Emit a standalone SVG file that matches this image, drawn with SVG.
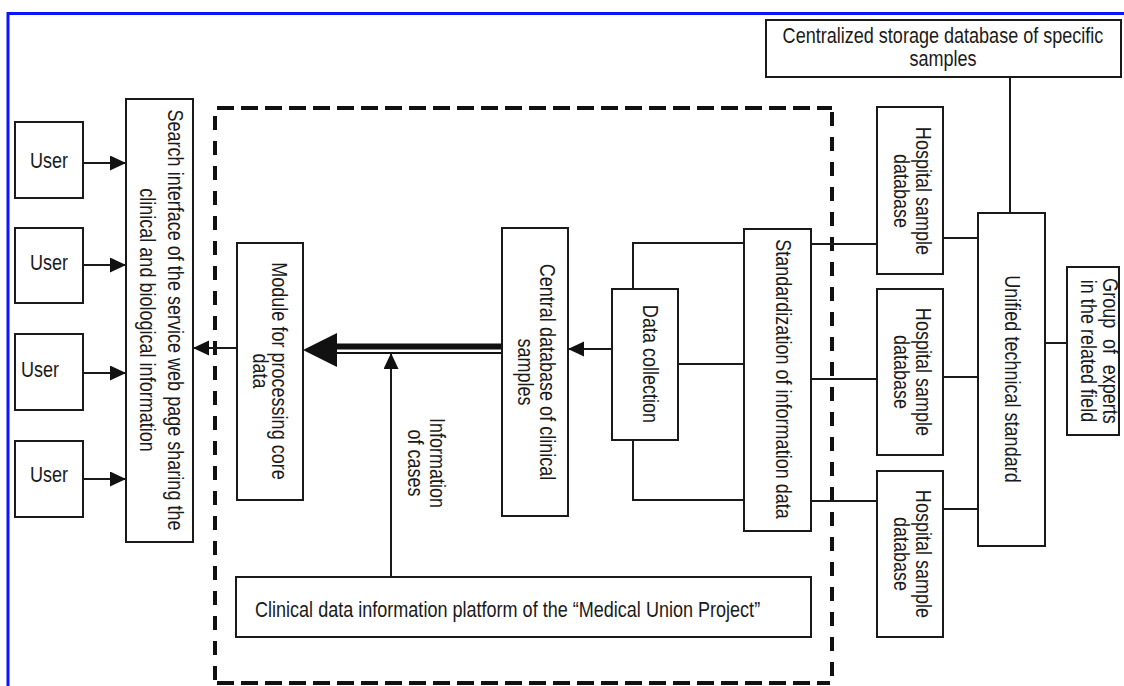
<svg xmlns="http://www.w3.org/2000/svg" width="1124" height="686" viewBox="0 0 1124 686">
<defs>
<style>
.box{fill:#fff;stroke:#1a1a1a;stroke-width:2}
.t{font-family:"Liberation Sans",Arial,sans-serif;font-size:22px;fill:#1a1a1a}
.c{text-anchor:middle}
.ln{fill:none;stroke:#1a1a1a;stroke-width:2}
.dsh{fill:none;stroke:#111;stroke-width:4}
</style>
<marker id="ah" markerUnits="userSpaceOnUse" markerWidth="17" markerHeight="16" refX="16" refY="7.5" orient="auto">
<path d="M0,0 L16,7.5 L0,15 z" fill="#111"/>
</marker>
</defs>
<rect x="0" y="0" width="1124" height="686" fill="#fff"/>
<g id="frame">
<line x1="8" y1="13.5" x2="1124" y2="13.5" stroke="#0a14ff" stroke-width="3"/>
<line x1="8" y1="12" x2="8" y2="686" stroke="#0a14ff" stroke-width="3"/>
</g>
<g id="dashed-region">
<line class="dsh" x1="217" y1="108" x2="832" y2="108" stroke-dasharray="17 7"/>
<line class="dsh" x1="215" y1="116" x2="215" y2="683" stroke-dasharray="14 11"/>
<line class="dsh" x1="832" y1="112" x2="832" y2="683" stroke-dasharray="14 11"/>
<line class="dsh" x1="217" y1="683" x2="830" y2="683" stroke-dasharray="17 7"/>
</g>
<g id="connectors">
<line class="ln" x1="83" y1="163" x2="126" y2="163" marker-end="url(#ah)"/>
<line class="ln" x1="83" y1="265" x2="126" y2="265" marker-end="url(#ah)"/>
<line class="ln" x1="83" y1="373" x2="126" y2="373" marker-end="url(#ah)"/>
<line class="ln" x1="83" y1="479" x2="126" y2="479" marker-end="url(#ah)"/>
<line class="ln" x1="237" y1="348" x2="193" y2="348" marker-end="url(#ah)"/>
<line x1="330" y1="346.5" x2="502" y2="346.5" stroke="#111" stroke-width="6"/>
<line x1="330" y1="353" x2="502" y2="353" stroke="#111" stroke-width="2"/>
<polygon points="303,350 337,333 337,367" fill="#111"/>
<line class="ln" x1="391" y1="576" x2="391" y2="353" marker-end="url(#ah)"/>
<line class="ln" x1="612" y1="349" x2="568" y2="349" marker-end="url(#ah)"/>
<polyline class="ln" points="633,289 633,243 744,243"/>
<line class="ln" x1="678" y1="364" x2="744" y2="364"/>
<polyline class="ln" points="633,440 633,500 744,500"/>
<line class="ln" x1="811" y1="244" x2="877" y2="244"/>
<line class="ln" x1="811" y1="379" x2="877" y2="379"/>
<line class="ln" x1="811" y1="501" x2="877" y2="501"/>
<line class="ln" x1="943" y1="238" x2="978" y2="238"/>
<line class="ln" x1="943" y1="377" x2="978" y2="377"/>
<line class="ln" x1="943" y1="509" x2="978" y2="509"/>
<line class="ln" x1="1010" y1="77" x2="1010" y2="213"/>
<line class="ln" x1="1045" y1="343" x2="1067" y2="343"/>
</g>
<g id="user1"><rect class="box" x="15" y="122" width="68" height="76"/><text class="t c" transform="translate(49,168) scale(0.82,1)">User</text></g>
<g id="user2"><rect class="box" x="15" y="228" width="68" height="75"/><text class="t c" transform="translate(49,270) scale(0.82,1)">User</text></g>
<g id="user3"><rect class="box" x="15" y="334" width="68" height="76"/><text class="t c" transform="translate(40,377) scale(0.82,1)">User</text></g>
<g id="user4"><rect class="box" x="15" y="441" width="68" height="76"/><text class="t c" transform="translate(49,482) scale(0.82,1)">User</text></g>
<g id="search-interface"><rect class="box" x="126" y="99" width="67" height="443"/>
<text class="t c" transform="translate(168,320) rotate(90) scale(0.82,1)"><tspan x="0" y="0">Search interface of the service web page sharing the</tspan><tspan x="0" y="28">clinical and biological information</tspan></text></g>
<g id="module"><rect class="box" x="237" y="243" width="66" height="257"/>
<text class="t c" transform="translate(272,371) rotate(90) scale(0.82,1)"><tspan x="0" y="0">Module for processing core</tspan><tspan x="0" y="19">data</tspan></text></g>
<g id="central-db"><rect class="box" x="502" y="228" width="66" height="288"/>
<text class="t c" transform="translate(540,372) rotate(90) scale(0.82,1)"><tspan x="0" y="0">Central database of clinical</tspan><tspan x="0" y="22">samples</tspan></text></g>
<g id="data-collection"><rect class="box" x="612" y="289" width="66" height="151"/>
<text class="t c" transform="translate(643,364) rotate(90) scale(0.82,1)">Data collection</text></g>
<g id="standardization"><rect class="box" x="744" y="229" width="67" height="302"/>
<text class="t c" transform="translate(776,379) rotate(90) scale(0.82,1)">Standardization of information data</text></g>
<g id="info-cases-label">
<text class="t c" transform="translate(430,463) rotate(90) scale(0.82,1)"><tspan x="0" y="0">Information</tspan><tspan x="0" y="22">of cases</tspan></text></g>
<g id="platform"><rect class="box" x="236" y="577" width="575" height="60"/>
<text class="t" transform="translate(255,617) scale(0.82,1)">Clinical data information platform of the “Medical Union Project”</text></g>
<g id="hospital1"><rect class="box" x="877" y="107" width="66" height="167"/>
<text class="t c" transform="translate(916,191) rotate(90) scale(0.82,1)"><tspan x="0" y="0">Hospital sample</tspan><tspan x="0" y="22">database</tspan></text></g>
<g id="hospital2"><rect class="box" x="877" y="289" width="66" height="166"/>
<text class="t c" transform="translate(916,372) rotate(90) scale(0.82,1)"><tspan x="0" y="0">Hospital sample</tspan><tspan x="0" y="22">database</tspan></text></g>
<g id="hospital3"><rect class="box" x="877" y="471" width="66" height="166"/>
<text class="t c" transform="translate(916,554) rotate(90) scale(0.82,1)"><tspan x="0" y="0">Hospital sample</tspan><tspan x="0" y="22">database</tspan></text></g>
<g id="unified-standard"><rect class="box" x="978" y="213" width="67" height="333"/>
<text class="t c" transform="translate(1005,379) rotate(90) scale(0.82,1)">Unified technical standard</text></g>
<g id="centralized-storage"><rect class="box" x="766" y="20" width="355" height="57"/>
<text class="t c" transform="translate(943,43) scale(0.82,1)">Centralized storage database of specific</text>
<text class="t c" transform="translate(943,66) scale(0.82,1)">samples</text></g>
<g id="experts-group"><rect class="box" x="1067" y="267" width="52" height="168"/>
<text class="t c" style="word-spacing:7px" transform="translate(1103,351) rotate(90) scale(0.82,1)">Group of experts</text>
<text class="t c" transform="translate(1081,351) rotate(90) scale(0.82,1)">in the related field</text></g>
</svg>
